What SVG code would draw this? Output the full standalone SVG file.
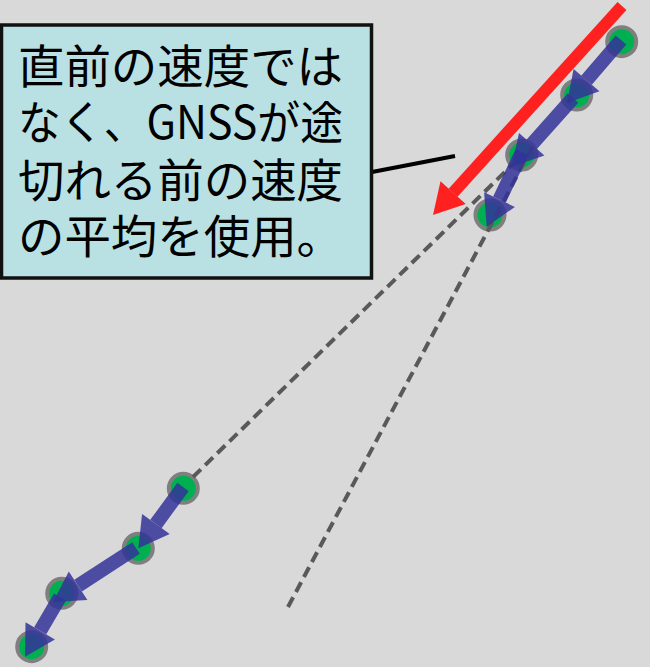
<svg xmlns="http://www.w3.org/2000/svg" width="650" height="667" viewBox="0 0 650 667">
<style>
.node{fill:#00b050;stroke:#7f7f7f;stroke-width:4}
.dash{fill:none;stroke:#595959;stroke-width:4;stroke-dasharray:11 6}
.bl{stroke:#333399;stroke-opacity:0.85;stroke-width:14;fill:none}
.bh{fill:#333399;fill-opacity:0.85}
.lbl{font-family:"Noto Sans CJK JP","Noto Sans CJK SC",sans-serif;font-size:46px;fill:#000}
</style>
<rect x="0" y="0" width="650" height="667" fill="#d9d9d9"/>
<g id="nodes">
<circle id="n1" class="node" cx="621.7" cy="41.7" r="14.5"/>
<circle id="n2" class="node" cx="576.7" cy="95" r="14.5"/>
<circle id="n3" class="node" cx="521.7" cy="155" r="14.5"/>
<circle id="n4" class="node" cx="490" cy="215" r="14.5"/>
<circle id="n5" class="node" cx="183.3" cy="488.3" r="14.5"/>
<circle id="n6" class="node" cx="138.3" cy="548.3" r="14.5"/>
<circle id="n7" class="node" cx="61.7" cy="593.3" r="14.5"/>
<circle id="n8" class="node" cx="31.7" cy="646.7" r="14.5"/>
</g>
<g id="connectors">
<line class="dash" x1="193" y1="477" x2="513" y2="164"/>
<line class="dash" x1="288" y1="607" x2="535" y2="142"/>
<line class="bl" x1="621" y1="40" x2="586.5" y2="80.2"/>
<polygon class="bh" points="567,103 599.4,91.3 573.6,69.1"/>
<line class="bl" x1="573" y1="98" x2="531.7" y2="144.3"/>
<polygon class="bh" points="511.7,166.7 544.4,155.6 519,133"/>
<line class="bl" x1="522" y1="152" x2="499.5" y2="199.6"/>
<polygon class="bh" points="486.7,226.7 514.9,206.9 484.1,192.3"/>
<line class="bl" x1="183" y1="487" x2="155.9" y2="524"/>
<polygon class="bh" points="138.3,548.3 169.7,534 142.1,514"/>
<line class="bl" x1="136" y1="548" x2="78.1" y2="585.6"/>
<polygon class="bh" points="53,602 87.4,599.9 68.8,571.4"/>
<line class="bl" x1="60" y1="597" x2="40.2" y2="630.8"/>
<polygon class="bh" points="25,656.7 54.9,639.4 25.5,622.2"/>
<line x1="622" y1="6" x2="453.1" y2="192.7" stroke="#ff2020" stroke-width="12"/>
<polygon points="433,215 465.7,204.1 440.5,181.3" fill="#ff2020"/>
<line x1="372" y1="172" x2="455" y2="156" stroke="#000" stroke-width="4"/>
</g>
<g id="callout">
<rect x="1.5" y="25" width="370" height="253" fill="#b9e0e3" stroke="#111" stroke-width="3.5"/>
<text class="lbl" x="18" y="83" textLength="325" lengthAdjust="spacingAndGlyphs">直前の速度では</text>
<text class="lbl" x="18" y="139" textLength="325" lengthAdjust="spacingAndGlyphs">なく、GNSSが途</text>
<text class="lbl" x="18" y="197" textLength="325" lengthAdjust="spacingAndGlyphs">切れる前の速度</text>
<text class="lbl" x="18" y="253" textLength="325" lengthAdjust="spacingAndGlyphs">の平均を使用。</text>
</g>
</svg>
